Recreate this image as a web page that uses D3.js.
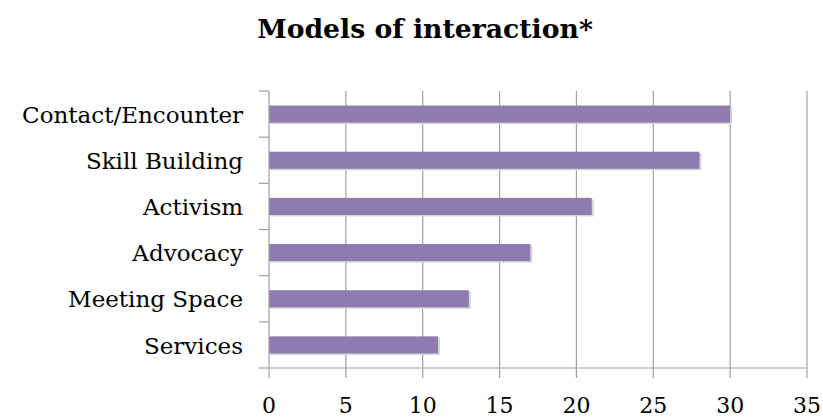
<!DOCTYPE html>
<html>
<head>
<meta charset="utf-8">
<script src="https://cdnjs.cloudflare.com/ajax/libs/d3/7.8.5/d3.min.js"></script>
<style>
  body { margin: 0; background: #fff; }
  text { font-family: "DejaVu Serif", serif; fill: #000; }
</style>
</head>
<body>
<svg id="chart" width="823" height="418"></svg>
<script>
var categories = ["Contact/Encounter", "Skill Building", "Activism", "Advocacy", "Meeting Space", "Services"];
var values = [30, 28, 21, 17, 13, 11];
var xTicks = [0, 5, 10, 15, 20, 25, 30, 35];
var title = "Models of interaction*";

var svg = d3.select("#chart"),
    margin = {top: 91, right: 16, bottom: 50, left: 269},
    width = 807 - margin.left,
    height = 368 - margin.top;

var g = svg.append("g").attr("transform", "translate(" + margin.left + "," + margin.top + ")");

var x = d3.scaleLinear().domain([0, 35]).range([0, width]);
var y = d3.scaleBand().domain(categories).range([0, height]).paddingInner(0.63).paddingOuter(0.315);
var band = d3.scaleBand().domain(categories).range([0, height]);

// gridlines
g.selectAll(".grid").data(xTicks.slice(1))
  .enter().append("line")
    .attr("class", "grid")
    .attr("x1", function (d) { return x(d); })
    .attr("x2", function (d) { return x(d); })
    .attr("y1", 0).attr("y2", height + 10)
    .style("stroke", "#a0a0a0").style("stroke-width", 1.2);

// bar shadows
g.selectAll(".shadow").data(values)
  .enter().append("rect")
    .attr("x", 1)
    .attr("y", function (d, i) { return y(categories[i]) + 1.5; })
    .attr("width", function (d) { return x(d) + 1; })
    .attr("height", y.bandwidth())
    .style("fill", "#d6d6d6");

g.selectAll(".bar").data(values)
  .enter().append("rect")
    .attr("class", "bar")
    .attr("x", 0)
    .attr("y", function (d, i) { return y(categories[i]); })
    .attr("width", function (d) { return x(d); })
    .attr("height", y.bandwidth())
    .style("fill", "#8e7bb0");

// axes lines
g.append("line").attr("x1", 0).attr("x2", width).attr("y1", height).attr("y2", height)
  .style("stroke", "#a0a0a0").style("stroke-width", 1.2);
g.append("line").attr("x1", 0).attr("x2", 0).attr("y1", 0).attr("y2", height + 10)
  .style("stroke", "#a0a0a0").style("stroke-width", 1.2);

// category ticks
var yTickPos = d3.range(categories.length + 1).map(function (i) { return i * band.step(); });
g.selectAll(".ytick").data(yTickPos)
  .enter().append("line")
    .attr("x1", -10).attr("x2", 0)
    .attr("y1", function (d) { return d; }).attr("y2", function (d) { return d; })
    .style("stroke", "#a0a0a0").style("stroke-width", 1.2);

// labels
g.selectAll(".ylabel").data(categories)
  .enter().append("text")
    .attr("x", -26)
    .attr("y", function (d) { return band(d) + band.bandwidth() / 2; })
    .attr("dy", "0.38em")
    .attr("text-anchor", "end")
    .style("font-size", "23px")
    .text(function (d) { return d; });

g.selectAll(".xlabel").data(xTicks)
  .enter().append("text")
    .attr("x", function (d) { return x(d); })
    .attr("y", height + 45)
    .attr("text-anchor", "middle")
    .style("font-size", "22px")
    .text(function (d) { return d; });

var t = svg.append("text")
  .attr("x", 425).attr("y", 38)
  .attr("text-anchor", "middle")
  .style("font-size", "27px").style("font-weight", "bold")
  .text(title);
// shrink title to the reference width
var tw = t.node().getComputedTextLength();
if (tw > 336) t.style("font-size", (27 * 336 / tw) + "px");
</script>
</body>
</html>
